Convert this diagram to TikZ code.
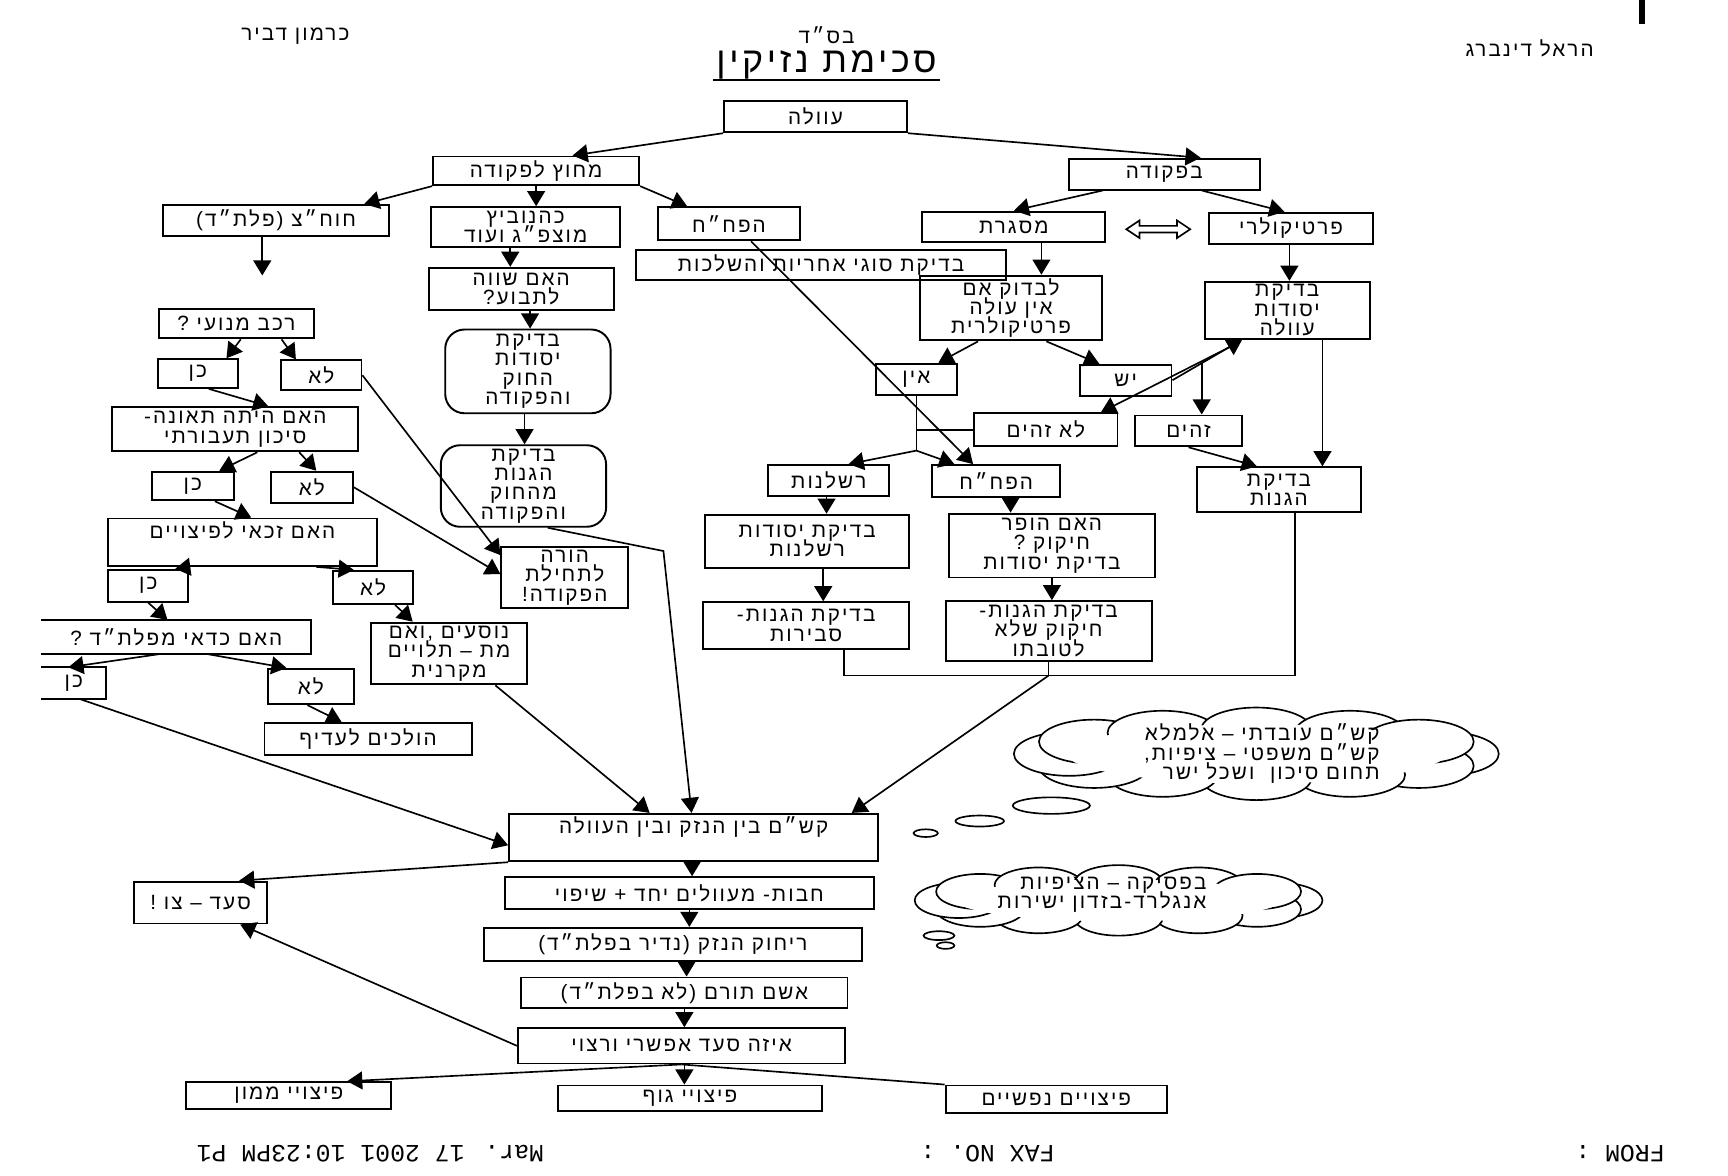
\documentclass[tikz,border=0pt]{standalone}
\usepackage{fontspec}
\usetikzlibrary{arrows.meta,calc}
\newfontfamily\hebfont[Script=Hebrew,LetterSpace=10]{Liberation Sans}
\newfontfamily\faxfont{Liberation Mono}
\TeXXeTstate=1
\newcommand{\heb}[1]{\beginR #1\endR}
\newcommand{\hebtext}{\hebfont\fontsize{7.5}{7}\selectfont\lineskiplimit=-10pt}

\begin{document}
\begin{tikzpicture}[x=0.4pt,y=-0.4pt,
  every node/.style={font=\hebtext, inner sep=1pt},
  box/.style={draw, line width=0.7pt, align=center},
  rbox/.style={box, rounded corners=7pt},
  sz/.style 2 args={minimum width=#1*0.4pt, minimum height=#2*0.4pt},
  arr/.style={line width=0.6pt, -{Triangle[length=5.5pt,width=6.5pt]}},
  link/.style={line width=0.6pt},
  cloudpuff/.style={draw, fill=white, line width=0.6pt},
  faxtext/.style={font=\faxfont\fontsize{9}{10}\selectfont, rotate=180}]
  \useasboundingbox (0,0) rectangle (1568,1067);

  % Header
  \node (author1) at (268,33) {\heb{כרמון דביר}};
  \node (bsd) at (750,32) {\heb{בס״ד}};
  \node[font=\hebfont\fontsize{13}{15}\selectfont] (title) at (750,59) {\heb{סכימת נזיקין}};
  \draw[line width=0.8pt] ($(title.south west)+(0,-2)$) -- ($(title.south east)+(0,-2)$);
  \node (author2) at (1388,44) {\heb{הראל דינברג}};
  \draw[line width=2pt] (1490,0) -- (1490,22);

  % Top of the tree
  \node[box, sz={166}{28}] (owla) at (740,106) {\heb{עוולה}};
  \node[box, sz={187}{26}] (outside) at (486.5,155) {\heb{מחוץ לפקודה}};
  \node[box, sz={173}{28}] (inside) at (1056.5,158) {\heb{בפקודה}};

  % Outside the ordinance
  \node[box, sz={205}{28}] (pltd) at (250.5,200) {\heb{חוח״צ (פלת״ד)}};
  \node[box, sz={172}{36}] (kahan) at (477,206) {\heb{כהנוביץ}\\\heb{מוצפ״ג ועוד}};
  \node[box, sz={129}{30}] (hapach1) at (661.5,203) {\heb{הפח״ח}};
  \node[box, sz={336}{27}] (types) at (745,240.5) {\heb{בדיקת סוגי אחריות והשלכות}};
  \node[box, sz={168}{38}] (worth) at (473,262) {\heb{האם שווה}\\\heb{לתבוע?}};
  \node[rbox, sz={150}{76}] (lawel) at (479,337) {\heb{בדיקת}\\\heb{יסודות}\\\heb{החוק}\\\heb{והפקודה}};
  \node[rbox, sz={150}{74}] (lawdef) at (475,441) {\heb{בדיקת}\\\heb{הגנות}\\\heb{מהחוק}\\\heb{והפקודה}};
  \node[box, sz={115}{50}] (torah) at (512.5,524) {\heb{הורה}\\\heb{לתחילת}\\\heb{הפקודה!}};

  % Inside the ordinance
  \node[box, sz={166}{28}] (misgeret) at (920,206) {\heb{מסגרת}};
  \node[box, sz={149}{28}] (partic) at (1171.5,207) {\heb{פרטיקולרי}};
  \draw[line width=0.6pt] (1022,208) -- (1034,200) -- (1034,205) -- (1068,205) -- (1068,200)
    -- (1080,208) -- (1068,216) -- (1068,211) -- (1034,211) -- (1034,216) -- cycle;
  \node[box, sz={165}{50}] (checkno) at (917.5,279.5) {\heb{לבדוק אם}\\\heb{אין עולה}\\\heb{פרטיקולרית}};
  \node[box, sz={150}{50}] (elements) at (1168,281.5) {\heb{בדיקת}\\\heb{יסודות}\\\heb{עוולה}};
  \node[box, sz={73}{28}] (ein) at (831.5,344) {\heb{אין}};
  \node[box, sz={83}{28}] (yesh) at (1021.5,345) {\heb{יש}};
  \node[box, sz={130}{30}] (notsame) at (949,390) {\heb{לא זהים}};
  \node[box, sz={97}{28}] (same) at (1078.5,391) {\heb{זהים}};
  \node[box, sz={110}{28}] (negl) at (752,436) {\heb{רשלנות}};
  \node[box, sz={116}{29}] (hapach2) at (904,436.5) {\heb{הפח״ח}};
  \node[box, sz={149}{41}] (defs) at (1160.5,444.5) {\heb{בדיקת}\\\heb{הגנות}};
  \node[box, sz={185}{48}] (neglel) at (732.5,491) {\heb{בדיקת יסודות}\\\heb{רשלנות}};
  \node[box, sz={187}{58}] (breach) at (954.5,495) {\heb{האם הופר}\\\heb{חיקוק ?}\\\heb{בדיקת יסודות}};
  \node[box, sz={187}{42}] (negdef) at (731.5,567.5) {\heb{בדיקת הגנות-}\\\heb{סבירות}};
  \node[box, sz={187}{54}] (statdef) at (951.5,572.5) {\heb{בדיקת הגנות-}\\\heb{חיקוק שלא}\\\heb{לטובתו}};

  % Road accidents
  \node[box, sz={141}{27}] (motor) at (214.5,293.5) {\heb{רכב מנועי ?}};
  \node[box, sz={73}{26}] (yes1) at (179.5,339) {\heb{כן}};
  \node[box, sz={73}{27}] (no1) at (291.5,340.5) {\heb{לא}};
  \node[box, sz={223}{40}] (accident) at (213.5,389.5) {\heb{האם היתה תאונה-}\\\heb{סיכון תעבורתי}};
  \node[box, sz={74}{26}] (yes2) at (175,441) {\heb{כן}};
  \node[box, sz={74}{28}] (no2) at (283,442) {\heb{לא}};
  \node[box, sz={244}{40}] (entitled) at (220,492) {\heb{האם זכאי לפיצויים}\\\strut};
  \node[box, sz={73}{29}] (yes3) at (134.5,531.5) {\heb{כן}};
  \node[box, sz={73}{30}] (no3) at (338.5,533) {\heb{לא}};
  \node[align=center, sz={244}{30}] (worthpltd) at (160,578) {\heb{האם כדאי מפלת״ד ?}};
  \draw[line width=0.7pt] (worthpltd.north west) -- (worthpltd.north east)
    -- (worthpltd.south east) -- (worthpltd.south west);
  \node[box, sz={141}{56}] (passengers) at (407.5,593) {\heb{נוסעים ,ואם}\\\heb{מת – תלויים}\\\heb{מקרנית}};
  \node[align=center, sz={58}{28}] (yes4) at (67,620) {\heb{כן}};
  \draw[line width=0.7pt] (yes4.north west) -- (yes4.north east)
    -- (yes4.south east) -- (yes4.south west);
  \node[box, sz={78}{32}] (no4) at (282,623) {\heb{לא}};
  \node[box, sz={188}{29}] (preferred) at (334,670.5) {\heb{הולכים לעדיף}};

  % Clouds
  \foreach \a in {0,30,...,330}
    \draw[cloudpuff] ($(1140,684)+({170*cos(\a)},{22*sin(\a)})$) ellipse (50 and 20);
  \fill[white] (1140,684) ellipse (172 and 27);
  \node[align=right] (cloudA) at (1145,684)
    {\heb{קש״ם עובדתי – אלמלא}\\\heb{קש״ם משפטי – ציפיות,}\\\heb{תחום סיכון\ \ ושכל ישר}};
  \draw[line width=0.6pt] (954,731) ellipse (35 and 7.5);
  \draw[line width=0.6pt] (889,745) ellipse (22 and 5);
  \draw[line width=0.6pt] (840,756) ellipse (11 and 3.5);
  \foreach \a in {0,30,...,330}
    \draw[cloudpuff] ($(1015,817)+({145*cos(\a)},{16*sin(\a)})$) ellipse (40 and 16);
  \fill[white] (1015,817) ellipse (147 and 19);
  \node[align=right] (cloudB) at (1000,812) {\heb{בפסיקה – הציפיות}\\\heb{אנגלרד-בזדון ישירות}};
  \draw[line width=0.6pt] (852,849) ellipse (14 and 4);
  \draw[line width=0.6pt] (858,858) ellipse (8 and 3);

  % Main chain
  \node[box, sz={335}{40}] (causal) at (629.5,760) {\heb{קש״ם בין הנזק ובין העוולה}\\\strut};
  \node[box, sz={120}{38}] (remedy) at (182,819) {\heb{סעד – צו !}};
  \node[box, sz={335}{29}] (joint) at (625.5,810.5) {\heb{חבות- מעוולים יחד + שיפוי}};
  \node[box, sz={343}{30}] (remote) at (610.5,857) {\heb{ריחוק הנזק (נדיר בפלת״ד)}};
  \node[box, sz={296}{28}] (contrib) at (621,901) {\heb{אשם תורם (לא בפלת״ד)}};
  \node[box, sz={297}{32}] (which) at (618.5,949) {\heb{איזה סעד אפשרי ורצוי}};
  \node[box, sz={186}{24}] (money) at (262,994) {\heb{פיצויי ממון}};
  \node[box, sz={240}{23}] (body) at (626,996.5) {\heb{פיצויי גוף}};
  \node[box, sz={201}{25}] (mental) at (958.5,997.5) {\heb{פיצויים נפשיים}};

  % Fax footer (upside down)
  \node[faxtext] (faxdate) at (336,1047) {Mar. 17 2001 10:23PM P1};
  \node[faxtext] (faxno) at (896,1047) {FAX NO. :};
  \node[faxtext] (faxfrom) at (1470,1047) {FROM :};

  % Connectors: top
  \draw[arr] (owla.south west) -- ($(outside.north)+(33,0)$);
  \draw[arr] (owla.south east) -- ($(inside.north)+(33,0)$);
  \draw[arr] (outside.south west) -- ($(pltd.north)+(80,0)$);
  \draw[arr] (outside.south) -- (kahan.north -| outside.south);
  \draw[arr] (outside.south east) -- ($(hapach1.north)+(-38,0)$);
  \coordinate (pltdend) at (238,250);
  \draw[arr] ($(pltd.south)+(-12.5,0)$) -- (pltdend);
  \draw[arr] ($(kahan.south)+(-14,0)$) -- ($(worth.north)+(-10,0)$);
  \draw[arr] ($(worth.south)+(8,0)$) -- ($(lawel.north)+(2,0)$);
  \draw[arr] ($(lawel.south)+(-3,0)$) -- ($(lawdef.north)+(1,0)$);
  \coordinate (bend) at (602,500);
  \draw[arr] ($(lawdef.south)+(22,0)$) -- (bend) -- ($(causal.north)+(-2,0)$);

  % Connectors: inside the ordinance
  \draw[arr] ($(inside.south)+(-56,0)$) -- (misgeret.north);
  \draw[arr] ($(inside.south)+(34,0)$) -- ($(partic.north)+(-6,0)$);
  \draw[arr] ($(misgeret.south)+(25,0)$) -- ($(checkno.north)+(27.5,0)$);
  \draw[arr] ($(partic.south)+(-1.5,0)$) -- ($(elements.north)+(2,0)$);
  \draw[arr] ($(hapach1.south)+(20,0)$) -- ($(hapach2.north)+(-21,0)$);
  \draw[arr] ($(checkno.south)+(-30,0)$) -- ($(ein.north)+(20,0)$);
  \draw[arr] ($(checkno.south)+(32,0)$) -- ($(yesh.north)+(-24,0)$);
  \draw[arr] (yesh.east) -- ($(elements.south west)+(35,0)$);
  \draw[arr] ($(elements.south west)+(33,2)$) -- ($(notsame.north)+(50,0)$);
  \coordinate (split) at ($(yesh.east)!0.42!($(elements.south west)+(35,0)$)$);
  \draw[arr] (split) -- (split |- same.north);
  \draw[arr] ($(elements.south)+(32,0)$) -- ($(defs.north)+(39.5,0)$);
  \draw[arr] (same.south) -- ($(defs.north)+(-20,0)$);
  \coordinate (einjoin) at ($(ein.south)+(0,50)$);
  \draw[link] (ein.south) -- (einjoin);
  \draw[link] (notsame.west) -- (notsame.west -| einjoin);
  \draw[arr] (einjoin) -- ($(negl.north)+(18,0)$);
  \draw[arr] (einjoin) -- ($(hapach2.north)+(-38,0)$);
  \draw[arr] ($(negl.south)+(-2,0)$) -- ($(neglel.north)+(17.5,0)$);
  \draw[arr] ($(hapach2.south)+(13,0)$) -- ($(breach.north)+(-37.5,0)$);
  \draw[arr] ($(neglel.south)+(14.5,0)$) -- ($(negdef.north)+(15.5,0)$);
  \draw[arr] (breach.south) -- (breach.south |- statdef.north);
  \coordinate (merge) at (951.5,613);
  \draw[link] ($(negdef.south)+(34.5,0)$) |- (merge) -| ($(defs.south)+(14.5,0)$);
  \draw[link] (statdef.south) -- (merge);
  \draw[arr] (merge) -- ($(causal.north east)+(-25,0)$);

  % Connectors: road accidents
  \draw[arr] ($(motor.south)+(4,0)$) -- ($(yes1.north)+(26,0)$);
  \draw[arr] ($(motor.south)+(41,0)$) -- ($(no1.north)+(-23,0)$);
  \draw[arr] ($(yes1.south)+(10,0)$) -- ($(accident.north)+(30,0)$);
  \draw[arr] (no1.east) -- ($(torah.north west)+(0,8)$);
  \draw[arr] ($(accident.south)+(20,0)$) -- ($(yes2.north)+(24,0)$);
  \draw[arr] ($(accident.south)+(58,0)$) -- ($(no2.north)+(4,0)$);
  \draw[arr] ($(yes2.south)+(20,0)$) -- ($(entitled.north)+(8,0)$);
  \draw[arr] (no2.east) -- ($(torah.west)+(0,-3)$);
  \draw[arr] ($(entitled.south)+(-48,0)$) -- ($(yes3.north)+(24.5,0)$);
  \draw[arr] ($(entitled.south)+(67,0)$) -- ($(no3.north)+(-17.5,0)$);
  \draw[arr] (yes3.south) -- ($(worthpltd.north)+(-8,0)$);
  \draw[arr] ($(no3.south)+(20,0)$) -- ($(passengers.north)+(-33,0)$);
  \draw[arr] ($(worthpltd.south)+(-15,0)$) -- ($(yes4.north)+(-5,0)$);
  \draw[arr] ($(worthpltd.south)+(28,0)$) -- ($(no4.north)+(-22,0)$);
  \draw[arr] ($(no4.south)+(-3,0)$) -- ($(preferred.north)+(-24,0)$);
  \draw[arr] ($(yes4.south)+(6,0)$) -- ($(causal.west)+(0,7)$);
  \draw[arr] ($(passengers.south)+(42,0)$) -- ($(causal.north)+(-40,0)$);

  % Connectors: bottom chain
  \draw[arr] (causal.south west) -- ($(remedy.north)+(35,0)$);
  \draw[arr] ($(causal.south)+(-1.5,0)$) -- ($(joint.north)+(2.5,0)$);
  \draw[arr] (joint.south) -- ($(remote.north)+(15,0)$);
  \draw[arr] ($(remote.south)+(12.5,0)$) -- ($(contrib.north)+(2,0)$);
  \draw[arr] (contrib.south) -- ($(which.north)+(2.5,0)$);
  \draw[arr] (which.west) -- ($(remedy.south)+(36,0)$);
  \draw[arr] (which.south) -- ($(money.north)+(53,0)$);
  \draw[arr] ($(which.south)+(2.5,0)$) -- ($(body.north)+(-5,0)$);
  \draw[link] (which.south) -- (mental.north west);
\end{tikzpicture}
\end{document}
